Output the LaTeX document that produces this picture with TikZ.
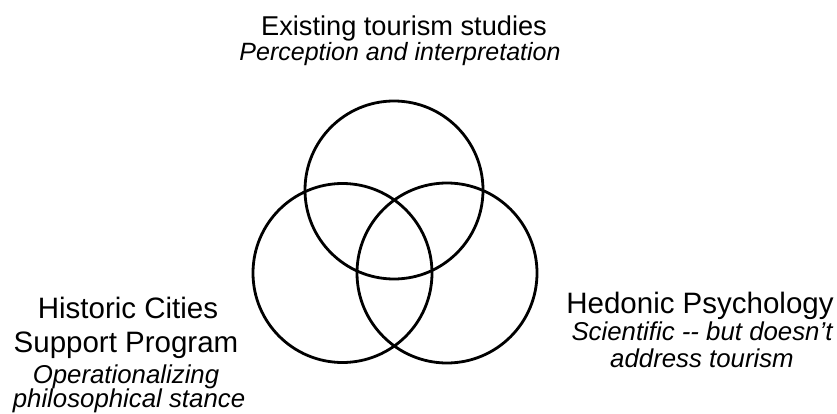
\documentclass[tikz,border=0pt]{standalone}
\usepackage{fontspec}
\setmainfont{Liberation Sans}
\begin{document}
\begin{tikzpicture}[x=1pt,y=-1pt,
  ring/.style={draw=black,line width=2.8pt},
  head/.style={anchor=base,inner sep=0pt,font=\fontsize{29.5}{35}\selectfont},
  tophead/.style={anchor=base,inner sep=0pt,font=\fontsize{27.2}{33}\selectfont},
  sub/.style={anchor=base,inner sep=0pt,font=\fontsize{25.8}{30}\selectfont\itshape},
  topsub/.style={anchor=base,inner sep=0pt,font=\fontsize{25}{30}\selectfont\itshape}]
\useasboundingbox (0,0) rectangle (837,414);
\draw[ring] (394,190) circle (89);
\draw[ring] (342.5,273) circle (89.5);
\draw[ring] (447,273) circle (90);
\node[tophead] (t1) at (404,36) {Existing tourism studies};
\node[topsub]  (t2) at (400,61) {Perception and interpretation};
\node[head] (l1) at (128,318) {Historic Cities};
\node[head] (l2) at (126,352) {Support Program};
\node[sub]  (l3) at (126,383) {Operationalizing};
\node[sub]  (l4) at (129,407) {philosophical stance};
\node[head] (r1) at (700,313) {Hedonic Psychology};
\node[sub]  (r2) at (702,340) {Scientific -{}- but doesn't};
\node[sub]  (r3) at (702,367) {address tourism};
\end{tikzpicture}
\end{document}
